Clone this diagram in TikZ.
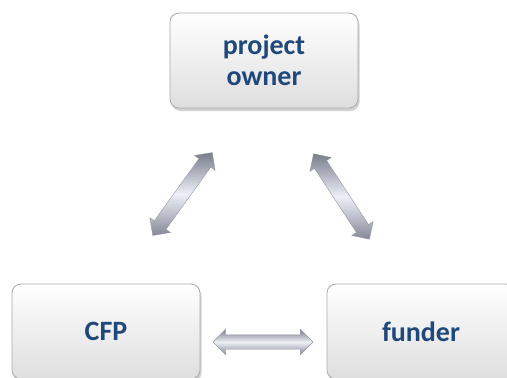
\documentclass[tikz,border=0pt]{standalone}
\usepackage{fontspec}
\setmainfont{Carlito}
\usetikzlibrary{shapes.arrows,shadows}
\definecolor{txtblue}{RGB}{33,72,122}
\definecolor{boxedge}{RGB}{170,170,170}
\definecolor{boxbot}{RGB}{222,222,222}
\definecolor{arrdark}{RGB}{120,124,138}
\definecolor{arrlight}{RGB}{238,240,248}
\tikzset{
  box/.style={draw=boxedge, line width=0.8pt, rounded corners=9pt,
    top color=white, bottom color=boxbot,
    minimum width=188pt, minimum height=95pt,
    drop shadow={shadow xshift=1.5pt, shadow yshift=-3pt, opacity=0.3, fill=black!60},
    font=\fontsize{28}{31}\selectfont\bfseries, text=txtblue, align=center},
  dblarrow/.style={double arrow, draw=arrdark!80, line width=0.4pt,
    minimum height=102pt, inner xsep=0pt, inner ysep=7pt,
    double arrow head extend=5.5pt,
    shading=axis, top color=arrdark, bottom color=arrdark!90,
    middle color=arrlight, shading angle=0}
}
\begin{document}
\begin{tikzpicture}[x=1pt,y=-1pt]
\useasboundingbox (0,0) rectangle (507,378);
\clip (0,0) rectangle (507,378);
\node[box] (po) at (264,60.5) {project\\owner};
\node[box] (cfp) at (106,331.5) {CFP};
\node[box] (fun) at (421,331.5) {funder};
\node[dblarrow, rotate=54.3] (a1) at (182.5,194) {};
\node[dblarrow, rotate=-56.8] (a2) at (341.5,196.5) {};
\node[dblarrow, minimum height=100pt] (a3) at (263,342) {};
\end{tikzpicture}
\end{document}
